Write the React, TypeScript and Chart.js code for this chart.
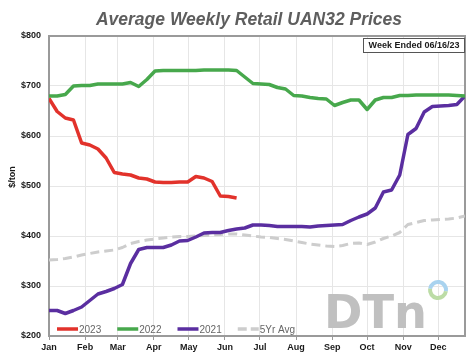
import React, { useEffect, useRef } from "react";
import { Chart, registerables } from "chart.js";

Chart.register(...registerables);

const MONTH_LABELS = ["Jan", "Feb", "Mar", "Apr", "May", "Jun", "Jul", "Aug", "Sep", "Oct", "Nov", "Dec"];
const MONTH_START_DAYS = [0, 31, 59, 90, 120, 151, 181, 212, 243, 273, 304, 334];
const Y_TICKS = [200, 300, 400, 500, 600, 700, 800];

const SERIES_2023 = [675, 649, 636, 632, 586, 582, 574, 556, 527, 524, 522, 516, 514, 508, 507, 507, 508, 508, 519, 516, 509, 480, 479, 476];

const SERIES_2022 = [680, 680, 683, 700, 701, 701, 704, 704, 704, 704, 707, 699, 713, 730, 731, 731, 731, 731, 731, 732, 732, 732, 732, 731, 718, 705, 704, 703, 697, 694, 681, 680, 677, 675, 674, 661, 667, 672, 672, 653, 672, 677, 677, 681, 681, 682, 682, 682, 682, 682, 681, 680];

const SERIES_2021 = [251, 251, 245, 251, 258, 271, 284, 289, 295, 303, 345, 373, 377, 377, 377, 382, 390, 391, 398, 406, 407, 407, 411, 414, 416, 422, 422, 421, 419, 419, 419, 419, 418, 420, 421, 422, 423, 431, 438, 444, 456, 488, 492, 522, 603, 615, 648, 659, 660, 661, 663, 680];

const SERIES_5YR = [352, 353, 355, 358, 362, 365, 368, 370, 372, 377, 385, 389, 392, 394, 396, 398, 399, 399, 400, 401, 402, 403, 404, 404, 402, 400, 398, 397, 395, 393, 390, 387, 384, 382, 380, 379, 381, 385, 386, 383, 388, 395, 400, 407, 423, 427, 431, 432, 433, 434, 436, 440];

const TITLE = "Average Weekly Retail UAN32 Prices";
const WEEK_NOTE = "Week Ended 06/16/23";
const Y_TITLE = "$/ton";

const toPoints = (arr: number[]) => arr.map((v, i) => ({ x: i, y: v }));

const decorPlugin = {
  id: "decor",
  beforeDatasetsDraw(chart: any) {
    const { ctx, chartArea } = chart;
    const { left, right, top, bottom } = chartArea;
    ctx.save();
    // watermark DTN
    ctx.fillStyle = "#c0c0c0";
    ctx.font = "bold 47px 'DejaVu Sans', Arial, sans-serif";
    ctx.textBaseline = "alphabetic";
    ctx.textAlign = "left";
    ctx.fillText("DTn", 324, 328, 103);
    // ring
    const cx = 438, cy = 290, r = 8;
    ctx.lineWidth = 4;
    ctx.strokeStyle = "#a9d3ef";
    ctx.beginPath();
    ctx.arc(cx, cy, r, Math.PI * 1.05, Math.PI * 2.05);
    ctx.stroke();
    ctx.strokeStyle = "#bcdca6";
    ctx.beginPath();
    ctx.arc(cx, cy, r, Math.PI * 0.05, Math.PI * 1.05);
    ctx.stroke();
    // frame
    ctx.strokeStyle = "#9a9a9a";
    ctx.lineWidth = 2;
    ctx.strokeRect(left, top, right - left, bottom - top);
    ctx.restore();
  },
  afterDraw(chart: any) {
    const { ctx, chartArea } = chart;
    const { right, top } = chartArea;
    ctx.save();
    // title
    ctx.fillStyle = "#5e5e5e";
    ctx.font = "italic bold 17.5px 'Liberation Sans', Arial, sans-serif";
    ctx.textAlign = "center";
    ctx.textBaseline = "alphabetic";
    ctx.fillText(TITLE, 249, 25);
    // week note box
    ctx.font = "bold 9px 'Liberation Sans', Arial, sans-serif";
    const bx = 363, by = top + 2, bw = right - 363, bh = 14;
    ctx.fillStyle = "#ffffff";
    ctx.fillRect(bx, by, bw, bh);
    ctx.strokeStyle = "#555555";
    ctx.lineWidth = 1;
    ctx.strokeRect(bx + 0.5, by + 0.5, bw - 1, bh);
    ctx.fillStyle = "#1a1a1a";
    ctx.textAlign = "center";
    ctx.textBaseline = "middle";
    ctx.fillText(WEEK_NOTE, bx + bw / 2, by + bh / 2 + 1);
    // y title
    ctx.save();
    ctx.translate(13, 177);
    ctx.rotate(-Math.PI / 2);
    ctx.font = "bold 9px 'Liberation Sans', Arial, sans-serif";
    ctx.fillStyle = "#1a1a1a";
    ctx.textAlign = "center";
    ctx.textBaseline = "middle";
    ctx.fillText(Y_TITLE, 0, 0);
    ctx.restore();
    // legend
    let x = 57;
    const ly = 329;
    ctx.font = "10px 'Liberation Sans', Arial, sans-serif";
    ctx.textBaseline = "middle";
    ctx.textAlign = "left";
    chart.data.datasets.forEach((ds: any) => {
      ctx.save();
      ctx.strokeStyle = ds.borderColor;
      ctx.lineWidth = 3.5;
      ctx.setLineDash(ds.borderDash && ds.borderDash.length ? [9, 4] : []);
      ctx.beginPath();
      ctx.moveTo(x, ly);
      ctx.lineTo(x + 21, ly);
      ctx.stroke();
      ctx.restore();
      ctx.fillStyle = "#666666";
      ctx.fillText(ds.label, x + 22, ly + 1);
      const w = ctx.measureText(ds.label).width;
      x += 22 + w + 16;
    });
    ctx.restore();
  },
};

export default function App() {
  const ref = useRef<HTMLCanvasElement | null>(null);
  useEffect(() => {
    document.body.style.margin = "0";
    const canvas = ref.current;
    if (!canvas) return;
    const chart = new Chart(canvas, {
      type: "line",
      data: {
        datasets: [
          { label: "2023", data: toPoints(SERIES_2023), borderColor: "#e2322b", borderWidth: 3.5 },
          { label: "2022", data: toPoints(SERIES_2022), borderColor: "#47a84c", borderWidth: 3.5 },
          { label: "2021", data: toPoints(SERIES_2021), borderColor: "#5a2ea0", borderWidth: 3.5 },
          { label: "5Yr Avg", data: toPoints(SERIES_5YR), borderColor: "#cdcdcd", borderWidth: 3, borderDash: [9, 5] },
        ] as any,
      },
      options: {
        animation: false,
        responsive: false,
        maintainAspectRatio: false,
        elements: { point: { radius: 0 }, line: { tension: 0, borderCapStyle: "butt", borderJoinStyle: "round" } },
        layout: { padding: { left: 0, right: 9, top: 36, bottom: 0 } },
        plugins: { legend: { display: false }, title: { display: false }, tooltip: { enabled: false } },
        scales: {
          x: {
            type: "linear",
            min: 0,
            max: 51,
            afterBuildTicks: (scale: any) => {
              scale.ticks = MONTH_START_DAYS.map((d) => ({ value: d / 7 }));
            },
            afterFit: (scale: any) => {
              scale.height = 24;
            },
            ticks: {
              autoSkip: false,
              maxRotation: 0,
              padding: 2,
              color: "#1a1a1a",
              font: { family: "'Liberation Sans', Arial, sans-serif", size: 9, weight: "bold" },
              callback: (_v: any, i: number) => MONTH_LABELS[i],
            },
            grid: { color: "#e6e6e6", lineWidth: 1, tickLength: 4, tickColor: "#9a9a9a" },
            border: { display: false },
          },
          y: {
            min: 200,
            max: 800,
            afterBuildTicks: (scale: any) => {
              scale.ticks = Y_TICKS.map((v) => ({ value: v }));
            },
            afterFit: (scale: any) => {
              scale.width = 49;
            },
            ticks: {
              padding: 8,
              color: "#1a1a1a",
              font: { family: "'Liberation Sans', Arial, sans-serif", size: 9, weight: "bold" },
              callback: (v: any) => "$" + v,
            },
            grid: { color: "#e6e6e6", lineWidth: 1, drawTicks: false },
            border: { display: false },
          },
        },
      } as any,
      plugins: [decorPlugin],
    });
    return () => chart.destroy();
  }, []);
  return (
    <div style={{ width: 474, height: 360, background: "#ffffff" }}>
      <canvas ref={ref} width={474} height={360} style={{ display: "block", width: 474, height: 360 }} />
    </div>
  );
}
